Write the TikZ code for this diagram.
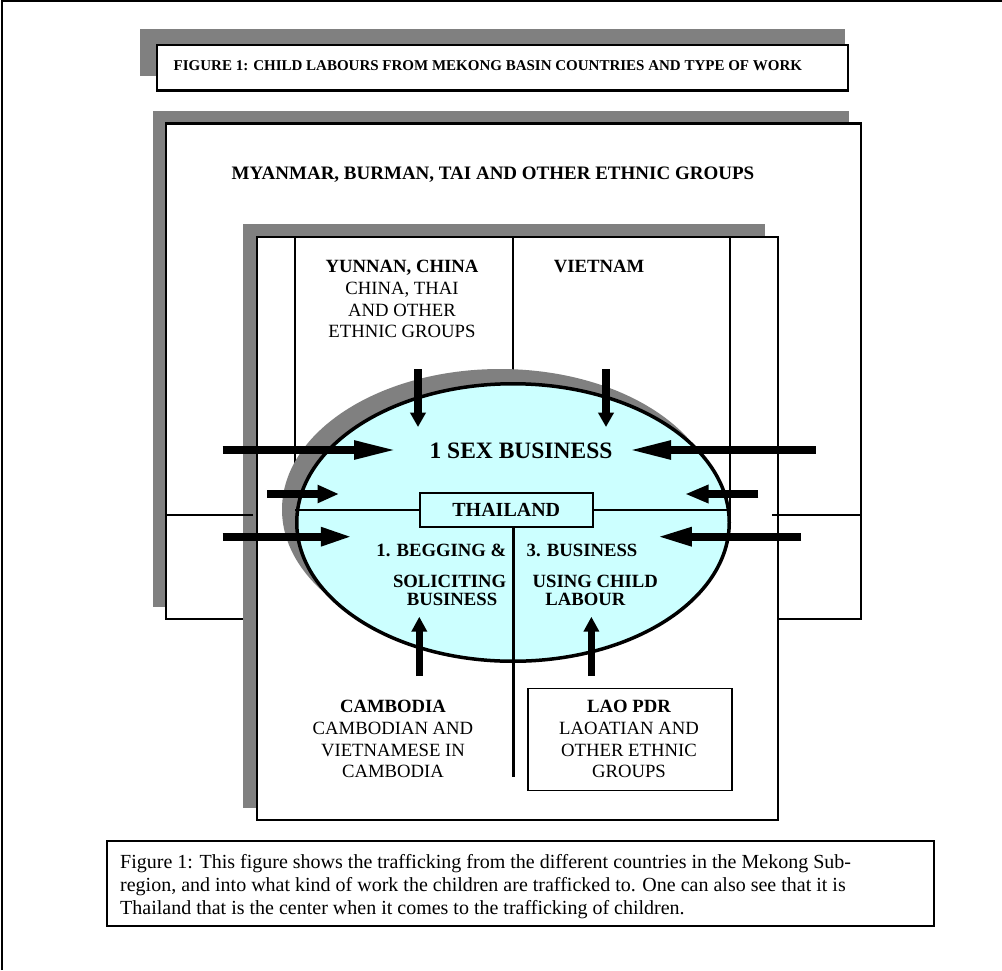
\documentclass[tikz,border=0pt]{standalone}
\usepackage{fontspec}
\setmainfont{Liberation Serif}
\usetikzlibrary{arrows.meta,shapes.geometric}
\definecolor{shadowgray}{HTML}{808080}
\definecolor{lcyan}{HTML}{CCFFFF}
\begin{document}
\begin{tikzpicture}[x=1pt,y=-1pt,
  framebox/.style={fill=white,draw=black,line width=2.5pt},
  divider/.style={draw=black,line width=2.5pt},
  dropshadow/.style={fill=shadowgray,draw=none},
  tx/.style={inner sep=0pt,anchor=base,font=\fontsize{18.7pt}{21.7pt}\selectfont},
  txb/.style={tx,font=\fontsize{18.7pt}{21.7pt}\selectfont\bfseries},
  hbar/.style={line width=8pt,-{Triangle[length=#1,width=17pt]}},
  vbar/.style={line width=7.5pt,-{Triangle[length=#1,width=15pt]}}]
\useasboundingbox (0,0) rectangle (1002,970);
% page frame
\draw[line width=2pt] (2,970) -- (2,1) -- (1002,1);

% title
\path[dropshadow] (140,29) rectangle (845,76);
\draw[framebox] (157,45) rectangle (848,90.5);
\node[inner sep=0pt,anchor=base west,font=\fontsize{15pt}{18pt}\selectfont\bfseries] (title) at (173.5,70) {FIGURE 1: CHILD LABOURS FROM MEKONG BASIN COUNTRIES AND TYPE OF WORK};

% Myanmar box
\path[dropshadow] (153,111) rectangle (849,607);
\draw[framebox] (166,123.5) rectangle (861,619);
\node[txb,font=\fontsize{19pt}{22pt}\selectfont\bfseries] (mya) at (493,179.3) {MYANMAR, BURMAN, TAI AND OTHER ETHNIC GROUPS};

% inner box
\path[dropshadow] (243,224) rectangle (765,808);
\draw[divider] (166,515) -- (253,515);
\draw[framebox] (257,237) rectangle (778,820);
\draw[divider] (772,515) -- (861,515);
\draw[divider] (295,237) -- (295,520);
\draw[divider] (513,237) -- (513,400);
\draw[divider] (730,237) -- (730,520);

% ellipse
\path[dropshadow] (500,509.5) ellipse [x radius=218pt,y radius=140.5pt];
\node[ellipse,draw,fill=lcyan,line width=3.5pt,minimum width=432.5pt,minimum height=277.5pt,inner sep=0pt] (ell) at (513,522.5) {};

% Thailand
\node[draw,fill=lcyan,line width=2.5pt,minimum width=173pt,minimum height=34pt,inner sep=0pt,font=\fontsize{20pt}{24pt}\selectfont\bfseries] (thai) at (506.3,510) {THAILAND};
\draw[divider] (ell.west |- thai.west) -- (thai.west);
\draw[divider] (thai.east) -- (ell.east |- thai.east);
\coordinate (cl) at (513.5,777);
\draw[line width=3pt] (thai.south -| cl) -- (cl);

% texts
\node[txb,font=\fontsize{23.5pt}{28pt}\selectfont\bfseries] (sex) at (521,458.5) {1 SEX BUSINESS};
\node[txb] (yun1) at (402,272.9) {YUNNAN, CHINA};
\node[tx] (yun2) at (402,294.5) {CHINA, THAI};
\node[tx] (yun3) at (402,316.2) {AND OTHER};
\node[tx] (yun4) at (402,337.9) {ETHNIC GROUPS};
\node[txb] (viet) at (599,272.9) {VIETNAM};
\node[txb,anchor=base east] (beg1) at (506.5,556.2) {1. BEGGING \&};
\node[txb,anchor=base east] (beg2) at (506.5,587.9) {SOLICITING};
\node[txb] (beg3) at (452,605.2) {BUSINESS};
\node[txb,anchor=base west] (bus1) at (526.5,556.2) {3. BUSINESS};
\node[txb,anchor=base west] (bus2) at (532.5,587.9) {USING CHILD};
\node[txb] (bus3) at (585.4,605.2) {LABOUR};

% lower countries
\draw[line width=1.5pt] (528.2,688.3) rectangle (731.8,790.7);
\node[txb] (cam1) at (393,712.9) {CAMBODIA};
\node[tx] (cam2) at (393,734.5) {CAMBODIAN AND};
\node[tx] (cam3) at (393,756.2) {VIETNAMESE IN};
\node[tx] (cam4) at (393,777.9) {CAMBODIA};
\node[txb] (lao1) at (629,712.9) {LAO PDR};
\node[tx] (lao2) at (629,734.5) {LAOATIAN AND};
\node[tx] (lao3) at (629,756.2) {OTHER ETHNIC};
\node[tx] (lao4) at (629,777.9) {GROUPS};

% arrows
\coordinate (l1s) at (222.5,450);   \coordinate (l1t) at (398,450);
\coordinate (l2s) at (267,494);     \coordinate (l2t) at (339,494);
\coordinate (l3s) at (222.5,536.7); \coordinate (l3t) at (353.4,536.7);
\coordinate (r1s) at (815.7,450);   \coordinate (r1t) at (627.5,450);
\coordinate (r2s) at (758.4,494);   \coordinate (r2t) at (685,494);
\coordinate (r3s) at (801,536.7);   \coordinate (r3t) at (656,536.7);
\coordinate (d1s) at (418,369.3);   \coordinate (d1t) at (418,427);
\coordinate (d2s) at (606,369.3);   \coordinate (d2t) at (606,427);
\coordinate (u1s) at (419.3,676);   \coordinate (u1t) at (419.3,616.7);
\coordinate (u2s) at (591.4,676);   \coordinate (u2t) at (591.4,616.7);
\draw[hbar=44pt] (l1s) -- (l1t);
\draw[hbar=21.5pt,line width=7.5pt] (l2s) -- (l2t);
\draw[hbar=32.6pt] (l3s) -- (l3t);
\draw[hbar=43.5pt] (r1s) -- (r1t);
\draw[hbar=23.5pt,line width=7.5pt] (r2s) -- (r2t);
\draw[hbar=35.8pt] (r3s) -- (r3t);
\draw[vbar=14.3pt] (d1s) -- (d1t);
\draw[vbar=14.3pt] (d2s) -- (d2t);
\draw[vbar=15pt] (u1s) -- (u1t);
\draw[vbar=15pt] (u2s) -- (u2t);

% caption
\draw[line width=1.3pt] (107,841) rectangle (934,926);
\node[tx,font=\fontsize{20pt}{23.3pt}\selectfont,anchor=base west] (cap1) at (120,868.3) {Figure 1: This figure shows the trafficking from the different countries in the Mekong Sub-};
\node[tx,font=\fontsize{20pt}{23.3pt}\selectfont,anchor=base west] (cap2) at (120,891.6) {region, and into what kind of work the children are trafficked to. One can also see that it is};
\node[tx,font=\fontsize{20pt}{23.3pt}\selectfont,anchor=base west] (cap3) at (120,914.9) {Thailand that is the center when it comes to the trafficking of children.};
\end{tikzpicture}
\end{document}
